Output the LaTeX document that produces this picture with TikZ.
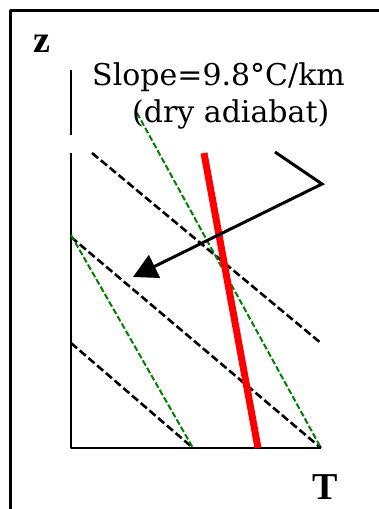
\documentclass[tikz,border=0pt]{standalone}
\usepackage{fontspec}
\setmainfont{DejaVu Serif}
\newfontfamily\axisfont{Liberation Serif}
\usetikzlibrary{arrows.meta}
\tikzset{
  every picture/.style={line join=round, >=Stealth},
  drydash/.style={black, line width=2.6pt, dash pattern=on 8pt off 3.5pt},
  moistdash/.style={green!50!black, line width=2pt, dash pattern=on 6pt off 2.5pt},
  sounding/.style={red, line width=7pt},
  axislab/.style={font=\axisfont\bfseries\fontsize{38}{40}\selectfont, inner sep=0pt},
  slopelab/.style={font=\fontsize{30}{36}\selectfont, inner sep=0pt},
}
\begin{document}
\begin{tikzpicture}[x=1pt,y=-1pt]
\useasboundingbox (0,0) rectangle (379,509);
% frame
\draw[line width=3pt](10,509)--(10,10)--(379,10);
% axes
\coordinate (O) at (71,448);
\coordinate (ztop) at (71,153);
\coordinate (tend) at (321,448);
\draw[line width=2.4pt](71,70)--(71,135);
\draw[line width=2.4pt](ztop)--(O)--(tend);
\node[axislab] (zlab) at (42,44) {z};
\node[axislab] (tlab) at (325,487) {T};
% dry adiabats
\draw[drydash](92,153)--(322,344);
\draw[drydash](71,237)--(tend);
\draw[drydash](71,343)--(193,448);
% moist adiabats
\draw[moistdash](137,113)--(tend);
\draw[moistdash](71,235)--(193,448);
% sounding
\draw[sounding](204,153)--(258,448);
% label and arrow
\node[slopelab,anchor=base west] (slope) at (92,85) {Slope=9.8°C/km};
\node[slopelab,anchor=base west] (adiab) at (132,122) {(dry adiabat)};
\draw[line width=3pt,line join=miter,-{Triangle[length=24pt,width=25pt]}](275,152)--(322,184)--(133,277);
\end{tikzpicture}
\end{document}
